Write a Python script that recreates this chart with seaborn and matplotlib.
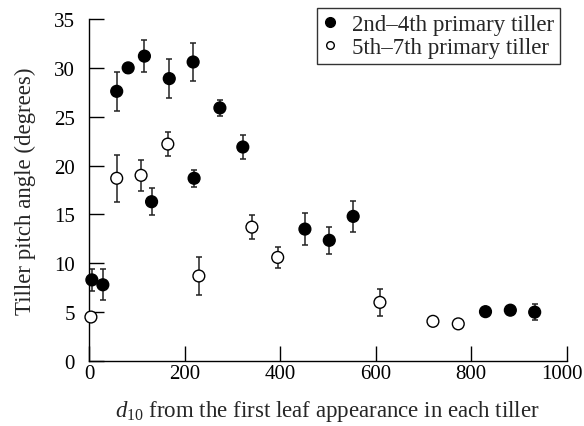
import matplotlib
matplotlib.use("Agg")
import matplotlib.pyplot as plt
import matplotlib.transforms as mtransforms
import seaborn as sns
import pandas as pd
from matplotlib.lines import Line2D

# 2nd-4th primary tiller (filled)
x_a = [6, 29, 58, 82, 116, 131, 168, 218, 220, 274, 322, 452, 503, 553, 830, 882, 933]
y_a = [8.3, 7.8, 27.6, 30.0, 31.2, 16.3, 28.9, 30.6, 18.7, 25.9, 21.9, 13.5, 12.35, 14.8, 5.05, 5.2, 5.0]
e_a = [1.1, 1.6, 2.0, 0.5, 1.6, 1.4, 2.0, 1.9, 0.85, 0.8, 1.25, 1.6, 1.4, 1.55, 0.0, 0.0, 0.8]

# 5th-7th primary tiller (open)
x_b = [4, 58, 109, 165, 230, 341, 395, 609, 720, 773]
y_b = [4.5, 18.7, 19.0, 22.2, 8.7, 13.7, 10.6, 6.0, 4.06, 3.8]
e_b = [0.0, 2.4, 1.6, 1.25, 1.95, 1.2, 1.1, 1.35, 0.0, 0.0]

labels = ["2nd\u20134th primary tiller", "5th\u20137th primary tiller"]
x_ticks = [0, 200, 400, 600, 800, 1000]
y_ticks = [0, 5, 10, 15, 20, 25, 30, 35]

df = pd.DataFrame({
    "x": x_a + x_b,
    "y": y_a + y_b,
    "err": e_a + e_b,
    "group": [labels[0]] * len(x_a) + [labels[1]] * len(x_b),
})

sns.set_style("ticks")
plt.rcParams["font.family"] = ["Liberation Serif", "DejaVu Serif"]
plt.rcParams["mathtext.fontset"] = "custom"
plt.rcParams["mathtext.rm"] = "Liberation Serif"
plt.rcParams["mathtext.it"] = "Liberation Serif:italic"

TFS = 15
LFS = 16.5

fig = plt.figure(figsize=(5.84, 4.27), dpi=100)
ax = fig.add_axes([89 / 584, 1 - 362 / 427, (566.7 - 89) / 584, (362 - 20) / 427])

for g in labels:
    sub = df[df["group"] == g]
    ax.errorbar(sub["x"], sub["y"], yerr=sub["err"], fmt="none", ecolor="#222222",
                elinewidth=1.1, capsize=2.4, capthick=1.1, zorder=2, clip_on=False)

sns.scatterplot(data=df, x="x", y="y", hue="group",
                palette={labels[0]: "black", labels[1]: "white"},
                edgecolor="black", linewidth=1.0, s=72, ax=ax, zorder=3,
                clip_on=False, legend=False)

handles = [Line2D([], [], marker="o", ls="none", mfc="black", mec="black", ms=7, mew=1.0),
           Line2D([], [], marker="o", ls="none", mfc="white", mec="black", ms=5.5, mew=1.0)]
leg = ax.legend(handles, labels, loc="upper right", bbox_to_anchor=(0.986, 1.032),
                frameon=True, fancybox=False, fontsize=LFS, handletextpad=0.68,
                borderpad=0.25, labelspacing=0.1, handlelength=0.6, borderaxespad=0)
leg.get_frame().set_edgecolor("black")
leg.get_frame().set_linewidth(1.0)

ax.set_xlim(0, 1000)
ax.set_ylim(0, 35)
ax.set_xticks(x_ticks)
ax.set_yticks(y_ticks)
ax.tick_params(direction="in", length=11, width=1.0, labelsize=TFS, colors="black")
ax.tick_params(axis="y", pad=10)
ax.tick_params(axis="x", pad=2)
for s in ["top", "right"]:
    ax.spines[s].set_visible(False)
for s in ["left", "bottom"]:
    ax.spines[s].set_linewidth(1.0)
    ax.spines[s].set_color("black")

# nudge the last x tick label slightly left, as in the reference
last = ax.get_xticklabels()[-1]
last.set_transform(last.get_transform() + mtransforms.ScaledTranslation(-5 / 100, 0, fig.dpi_scale_trans))

ax.set_xlabel(r"$d_{10}$ from the first leaf appearance in each tiller", fontsize=LFS, labelpad=11)
ax.set_ylabel("Tiller pitch angle (degrees)", fontsize=LFS, labelpad=13)

fig.savefig("out.png", dpi=100)
